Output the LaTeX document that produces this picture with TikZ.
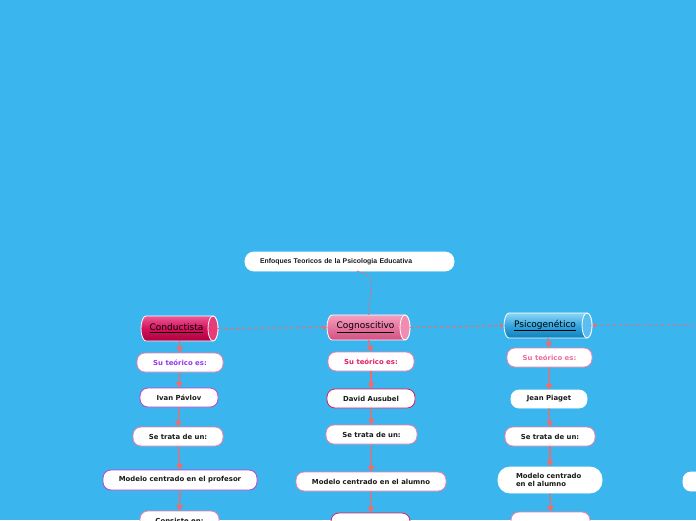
\documentclass[tikz,border=0pt]{standalone}
\usepackage{fontspec}
\setmainfont{DejaVu Sans}
\newfontfamily\titlef{Liberation Sans}
\usetikzlibrary{arrows.meta}
\definecolor{bgblue}{RGB}{59,181,238}
\definecolor{salmon}{RGB}{242,107,107}
\definecolor{pinkb}{RGB}{240,128,170}
\definecolor{magb}{RGB}{196,64,196}
\definecolor{crimb}{RGB}{214,32,100}
\definecolor{purpt}{RGB}{153,51,238}
\definecolor{crimt}{RGB}{226,32,90}
\definecolor{pinkt}{RGB}{242,106,154}
\definecolor{txt}{RGB}{26,26,26}
\definecolor{cAt}{RGB}{236,90,148}
\definecolor{cAb}{RGB}{176,0,64}
\definecolor{cAm}{RGB}{212,18,92}
\definecolor{cAe}{RGB}{230,60,120}
\definecolor{cBt}{RGB}{244,160,190}
\definecolor{cBb}{RGB}{210,80,130}
\definecolor{cBm}{RGB}{230,118,160}
\definecolor{cBe}{RGB}{240,140,175}
\definecolor{cCt}{RGB}{140,214,246}
\definecolor{cCb}{RGB}{16,128,190}
\definecolor{cCm}{RGB}{52,166,222}
\definecolor{cCe}{RGB}{90,190,240}
\newcommand{\mycyl}[8]{%
  \pgfmathsetmacro\cxa{#1-#3/2+5}%
  \pgfmathsetmacro\cxb{#1+#3/2-5}%
  \pgfmathsetmacro\cyt{#2-#4/2}%
  \pgfmathsetmacro\cyb{#2+#4/2}%
  \pgfmathsetmacro\cry{#4/2}%
  \shade[top color=#5, bottom color=#6, middle color=#7, draw=white, line width=0.8pt]
    (\cxa,\cyt) -- (\cxb,\cyt) arc[start angle=-90, end angle=90, x radius=5, y radius=\cry]
    -- (\cxa,\cyb) arc[start angle=90, end angle=270, x radius=5, y radius=\cry] -- cycle;
  \draw[white, line width=0.8pt, fill=#8] (\cxb,#2) ellipse[x radius=5, y radius=\cry];
}
\tikzset{
  box/.style={rounded corners=8pt, fill=white, line width=0.8pt, minimum height=19pt,
    inner sep=0pt, font=\bfseries\fontsize{6.9}{7.5}\selectfont, text=txt},
  cyltext/.style={minimum height=25pt, inner sep=0pt, font=\fontsize{9}{10}\selectfont, text=black},
  arr/.style={salmon, line width=1.3pt, -{Triangle[width=6.5pt,length=5.5pt]}},
  darr/.style={salmon, line width=1pt, dash pattern=on 3.5pt off 2.5pt, -{Triangle[width=4pt,length=3.5pt]}},
}
\begin{document}
\begin{tikzpicture}[x=1pt,y=-1pt]
\useasboundingbox (0,0) rectangle (696,520);
\clip (0,0) rectangle (696,520);
\fill[bgblue] (0,0) rectangle (696,520);

% cylinders
\mycyl{179.5}{328.5}{77}{25}{cAt}{cAb}{cAm}{cAe}
\mycyl{368.5}{327.5}{83}{25}{cBt}{cBb}{cBm}{cBe}
\mycyl{548}{325.5}{88}{25}{cCt}{cCb}{cCm}{cCe}

% title
\node[box, draw=white, text width=179pt, align=left, inner xsep=15pt, minimum height=19pt,
  rounded corners=9pt, font=\titlef\bfseries\fontsize{6.9}{7.5}\selectfont] (title) at (349.5,261.5)
  {Enfoques Teoricos de la Psicologia Educativa};

% cylinder labels
\node[cyltext, minimum width=77pt] (cond) at (179.5,328.5) {\hspace{-6pt}\underline{Conductista}};
\node[cyltext, minimum width=83pt] (cog) at (368.5,327.5) {\hspace{-6pt}\underline{Cognoscitivo}};
\node[cyltext, minimum width=88pt] (psi) at (548,325.5) {\hspace{-6pt}\underline{Psicogenético}};

% Conductista column
\node[box, draw=pinkb, minimum width=86pt, text=purpt] (cth) at (180,362.5) {Su teórico es:};
\node[box, draw=magb, minimum width=78pt] (cname) at (179,397.5) {Ivan Pávlov};
\node[box, draw=pinkb, minimum width=90pt] (ctrata) at (178,436.5) {Se trata de un:};
\node[box, draw=magb, minimum width=154pt, minimum height=20pt] (cmod) at (180,480) {Modelo centrado en el profesor};
\node[box, draw=pinkb, minimum width=79pt, minimum height=20pt] (ccons) at (179.5,521) {Consiste en:};

% Cognoscitivo column
\node[box, draw=pinkb, minimum width=86pt, text=crimt] (gth) at (371,361.5) {Su teórico es:};
\node[box, draw=crimb, minimum width=88pt] (gname) at (371,398.5) {David Ausubel};
\node[box, draw=pinkb, minimum width=91pt] (gtrata) at (371.5,434.5) {Se trata de un:};
\node[box, draw=pinkb, minimum width=150pt] (gmod) at (371,481.5) {Modelo centrado en el alumno};
\node[box, draw=crimb, minimum width=79pt, minimum height=20pt] (gnext) at (370.5,523) {};

% Psicogenetico column
\node[box, draw=pinkb, minimum width=85pt, text=pinkt] (pth) at (549.5,357.5) {Su teórico es:};
\node[box, draw=white, minimum width=76pt, minimum height=18pt] (pname) at (549,399) {Jean Piaget};
\node[box, draw=pinkb, minimum width=90pt] (ptrata) at (550,436.5) {Se trata de un:};
\node[box, draw=white, text width=68pt, align=left, inner xsep=18pt, minimum height=26pt,
  rounded corners=12pt, font=\bfseries\fontsize{6.9}{8.5}\selectfont] (pmod) at (550,480)
  {Modelo centrado\\en el alumno};
\node[box, draw=pinkb, minimum width=79pt, minimum height=20pt] (pnext) at (550.5,522) {};

% right partial node
\node[box, draw=white, minimum width=74pt] (rmod) at (720,481.5) {};

% dashed connectors
\draw[salmon, line width=1pt, dash pattern=on 2.5pt off 2.5pt]
  (357,271) .. controls (371,276) .. (371,290) -- (cog.north);
\draw[darr] (cond.east) -- (cog.west);
\draw[darr] (cog.east) -- (psi.west);
\coordinate (redge) at (700,325.5);
\draw[darr] (redge) -- (psi.east);

% solid arrows
\foreach \a/\b in {cond/cth, cth/cname, cname/ctrata, ctrata/cmod, cmod/ccons,
                   cog/gth, gth/gname, gname/gtrata, gtrata/gmod, gmod/gnext,
                   psi/pth, pth/pname, pname/ptrata, ptrata/pmod, pmod/pnext}
  \draw[arr] (\a.south) -- (\b.north);
\end{tikzpicture}
\end{document}
